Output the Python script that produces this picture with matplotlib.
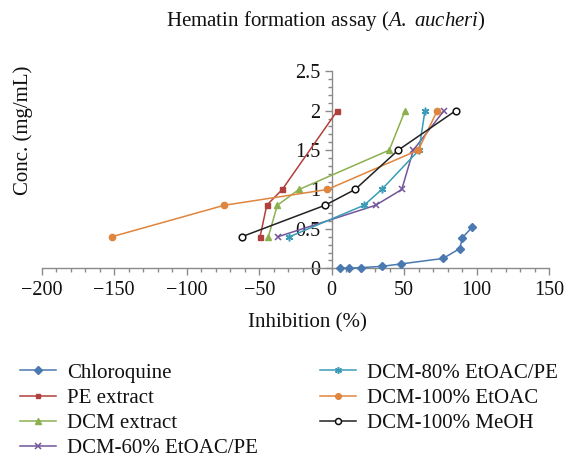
import matplotlib
matplotlib.use("Agg")
import matplotlib.pyplot as plt
from matplotlib.ticker import MultipleLocator

plt.rcParams['font.family'] = ['Liberation Serif', 'DejaVu Serif']
plt.rcParams['mathtext.fontset'] = 'custom'
plt.rcParams['mathtext.rm'] = 'Liberation Serif'
plt.rcParams['mathtext.it'] = 'Liberation Serif:italic'

# ---- data ----
chloroquine_x = [5.7, 11.9, 20.0, 34.7, 47.6, 76.8, 88.3, 90.2, 96.8]
chloroquine_y = [0.001, 0.003, 0.008, 0.025, 0.055, 0.125, 0.25, 0.39, 0.52]

pe_x = [-49.4, -44.8, -34.1, 3.9]
pe_y = [0.4, 0.8, 1.0, 2.0]

dcm_x = [-43.7, -37.5, -22.6, 39.7, 50.6]
dcm_y = [0.4, 0.8, 1.0, 1.5, 2.0]

dcm60_x = [-37.2, 30.3, 48.3, 56.3, 77.4]
dcm60_y = [0.4, 0.8, 1.0, 1.5, 2.0]

dcm80_x = [-29.2, 22.3, 34.5, 60.2, 64.3]
dcm80_y = [0.4, 0.8, 1.0, 1.5, 2.0]

etoac_x = [-151.7, -74.1, -3.0, 59.7, 72.8]
etoac_y = [0.4, 0.8, 1.0, 1.5, 2.0]

meoh_x = [-62.1, -4.6, 16.1, 45.9, 85.5]
meoh_y = [0.4, 0.8, 1.0, 1.5, 2.0]

labels = ["Chloroquine", "PE extract", "DCM extract", "DCM-60% EtOAC/PE",
          "DCM-80% EtOAC/PE", "DCM-100% EtOAC", "DCM-100% MeOH"]
title = "Hematin formation assay ($\\mathit{A.\\ aucheri}$)"
xlabel = "Inhibition (%)"
ylabel = "Conc. (mg/mL)"

W, H = 565, 457
fig = plt.figure(figsize=(W / 100, H / 100), dpi=100)
ax = fig.add_axes([41.7 / W, 1 - 268.3 / H, (549.2 - 41.7) / W, (268.3 - 71.3) / H])
ax.patch.set_alpha(0)

series = [
    (chloroquine_x, chloroquine_y, dict(color="#4A78B0", marker="D", ms=4, mfc="#4A78B0", mec="#4A78B0")),
    (pe_x, pe_y, dict(color="#B0403D", marker="s", ms=3.6, mfc="#B0403D", mec="#B0403D")),
    (dcm_x, dcm_y, dict(color="#8DB04F", marker="^", ms=4.5, mfc="#8DB04F", mec="#8DB04F")),
    (dcm60_x, dcm60_y, dict(color="#72559A", marker="x", ms=4.5, mew=1.1)),
    (dcm80_x, dcm80_y, dict(color="#3A9CB6", marker=(6, 2, 0), ms=5.5, mew=1.1)),
    (etoac_x, etoac_y, dict(color="#E0853D", marker="o", ms=4.5, mfc="#E0853D", mec="#E0853D")),
    (meoh_x, meoh_y, dict(color="#222222", marker="o", ms=4.8, mfc="white", mec="#111111", mew=1.1)),
]
handles = []
for (xs, ys, st), lab in zip(series, labels):
    h, = ax.plot(xs, ys, lw=1.1, label=lab, clip_on=False, zorder=3, **st)
    handles.append(h)

ax.set_xlim(-200, 150)
ax.set_ylim(0, 2.5)
for s in ("top", "right"):
    ax.spines[s].set_visible(False)
ax.spines["left"].set_position(("data", 0))
for s in ("left", "bottom"):
    ax.spines[s].set_color("#8a8a8a")
    ax.spines[s].set_linewidth(1.0)

ax.xaxis.set_major_locator(MultipleLocator(50))
ax.xaxis.set_minor_locator(MultipleLocator(10))
ax.yaxis.set_major_locator(MultipleLocator(0.5))
ax.yaxis.set_minor_locator(MultipleLocator(0.1))
ax.tick_params(axis="both", which="major", direction="out", length=5, width=1.0,
               color="#8a8a8a", labelsize=14.5, labelcolor="#111111")
ax.tick_params(axis="both", which="minor", direction="out", length=3, width=1.0, color="#8a8a8a")
ax.tick_params(axis="x", which="major", pad=4)
ax.tick_params(axis="y", which="major", pad=3)
ax.yaxis.set_major_formatter(matplotlib.ticker.FuncFormatter(lambda v, p: f"{v:g}"))

fig.text(326 / W, 1 - 21 / H, title, ha="center", va="center", fontsize=15, color="#111111")
fig.text(307 / W, 1 - 323 / H, xlabel, ha="center", va="center", fontsize=15, color="#111111")
fig.text(23 / W, 1 - 130 / H, ylabel, ha="center", va="center", rotation=90, fontsize=15, color="#111111")

leg_kw = dict(frameon=False, fontsize=15, handlelength=1.75, handletextpad=0.5,
              labelspacing=0.27, borderpad=0, borderaxespad=0, markerscale=0.9)
leg1 = fig.legend(handles=handles[:4], loc="upper left",
                  bbox_to_anchor=(20 / W, 1 - 363 / H), **leg_kw)
leg2 = fig.legend(handles=handles[4:], loc="upper left",
                  bbox_to_anchor=(320 / W, 1 - 363 / H), **leg_kw)
for t in leg1.get_texts() + leg2.get_texts():
    t.set_color("#111111")

fig.savefig("out.png", dpi=100)
